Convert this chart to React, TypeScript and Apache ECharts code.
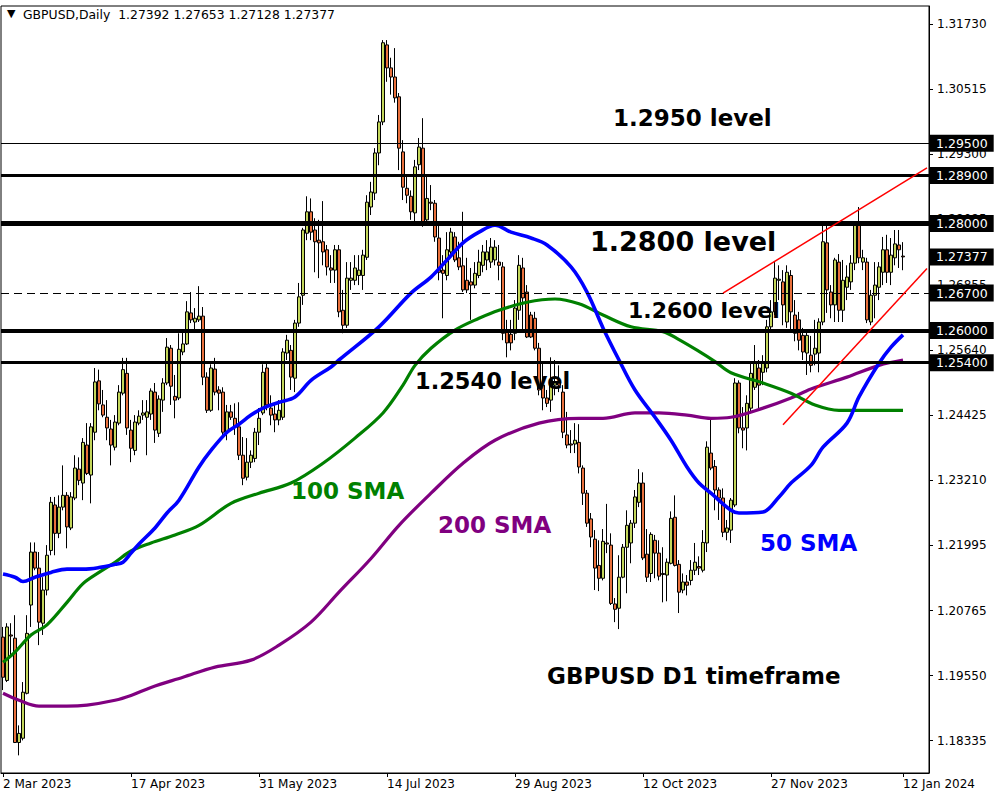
import React, { useEffect, useRef } from "react";
import * as echarts from "echarts";

// ---- tick labels ----
const dateTickLabels = ["2 Mar 2023", "17 Apr 2023", "31 May 2023", "14 Jul 2023", "29 Aug 2023", "12 Oct 2023", "27 Nov 2023", "12 Jan 2024"];
const priceTicks = [1.3173, 1.30515, 1.293, 1.28085, 1.26855, 1.2564, 1.24425, 1.2321, 1.21995, 1.20765, 1.1955, 1.18335];

// ---- daily OHLC (GBPUSD, 2 Mar 2023 .. 12 Jan 2024) ----
const opens = [
  1.2027, 1.1946, 1.2031, 1.2025, 1.1830, 1.1838, 1.1922, 1.2087, 1.2186, 1.2156,
  1.2053, 1.2115, 1.2189, 1.2274, 1.2221, 1.2270, 1.2292, 1.2231, 1.2287, 1.2341,
  1.2315, 1.2386, 1.2330, 1.2410, 1.2506, 1.2461, 1.2438, 1.2416, 1.2382, 1.2427,
  1.2483, 1.2520, 1.2414, 1.2376, 1.2427, 1.2442, 1.2438, 1.2444, 1.2485, 1.2408,
  1.2470, 1.2502, 1.2567, 1.2477, 1.2474, 1.2560, 1.2575, 1.2633, 1.2616, 1.2620,
  1.2627, 1.2513, 1.2451, 1.2528, 1.2489, 1.2485, 1.2410, 1.2448, 1.2436, 1.2420,
  1.2367, 1.2326, 1.2354, 1.2361, 1.2410, 1.2446, 1.2530, 1.2455, 1.2444, 1.2433,
  1.2438, 1.2558, 1.2563, 1.2511, 1.2614, 1.2666, 1.2782, 1.2822, 1.2788, 1.2769,
  1.2766, 1.2751, 1.2717, 1.2713, 1.2751, 1.2638, 1.2610, 1.2694, 1.2694, 1.2703,
  1.2703, 1.2737, 1.2831, 1.2857, 1.2932, 1.2990, 1.3134, 1.3091, 1.3074, 1.3037,
  1.2934, 1.2866, 1.2851, 1.2820, 1.2910, 1.2941, 1.2807, 1.2840, 1.2838, 1.2773,
  1.2713, 1.2703, 1.2747, 1.2775, 1.2736, 1.2721, 1.2694, 1.2691, 1.2685, 1.2703,
  1.2722, 1.2732, 1.2728, 1.2732, 1.2728, 1.2719, 1.2597, 1.2593, 1.2595, 1.2638,
  1.2717, 1.2672, 1.2629, 1.2623, 1.2567, 1.2498, 1.2474, 1.2470, 1.2498, 1.2502,
  1.2485, 1.2405, 1.2388, 1.2388, 1.2391, 1.2343, 1.2296, 1.2248, 1.2210, 1.2161,
  1.2137, 1.2203, 1.2199, 1.2089, 1.2081, 1.2139, 1.2195, 1.2203, 1.2240, 1.2279,
  1.2315, 1.2182, 1.2146, 1.2208, 1.2184, 1.2146, 1.2143, 1.2165, 1.2251, 1.2163,
  1.2115, 1.2130, 1.2133, 1.2152, 1.2159, 1.2152, 1.2203, 1.2371, 1.2346, 1.2302,
  1.2287, 1.2223, 1.2227, 1.2274, 1.2502, 1.2418, 1.2418, 1.2455, 1.2494, 1.2530,
  1.2522, 1.2530, 1.2607, 1.2635, 1.2694, 1.2691, 1.2616, 1.2703, 1.2629, 1.2620,
  1.2591, 1.2558, 1.2554, 1.2556, 1.2558, 1.2616, 1.2764, 1.2672, 1.2648, 1.2728,
  1.2638, 1.2681, 1.2691, 1.2726, 1.2797, 1.2728, 1.2728, 1.2616, 1.2666, 1.2681,
  1.2709, 1.2751, 1.2709, 1.2736, 1.2760, 1.27392,
];
const highs = [
  1.2046, 1.2053, 1.2053, 1.2068, 1.1862, 1.1943, 1.2068, 1.2204, 1.2204, 1.2186,
  1.2139, 1.2199, 1.2289, 1.2289, 1.2292, 1.2348, 1.2298, 1.2298, 1.2367, 1.2363,
  1.2399, 1.2427, 1.2427, 1.2530, 1.2527, 1.2489, 1.2470, 1.2433, 1.2442, 1.2498,
  1.2549, 1.2549, 1.2433, 1.2442, 1.2451, 1.2470, 1.2470, 1.2492, 1.2502, 1.2479,
  1.2511, 1.2586, 1.2573, 1.2517, 1.2595, 1.2601, 1.2655, 1.2672, 1.2642, 1.2683,
  1.2644, 1.2522, 1.2537, 1.2549, 1.2496, 1.2494, 1.2461, 1.2461, 1.2464, 1.2466,
  1.2401, 1.2399, 1.2376, 1.2418, 1.2455, 1.2537, 1.2541, 1.2479, 1.2461, 1.2470,
  1.2567, 1.2592, 1.2573, 1.2620, 1.2689, 1.2792, 1.2851, 1.2847, 1.2810, 1.2807,
  1.2842, 1.2760, 1.2741, 1.2760, 1.2760, 1.2676, 1.2728, 1.2728, 1.2741, 1.2741,
  1.2751, 1.2853, 1.2878, 1.2941, 1.3003, 1.3143, 1.3143, 1.3110, 1.3128, 1.3044,
  1.2956, 1.2891, 1.2862, 1.2919, 1.2960, 1.2997, 1.2891, 1.2872, 1.2844, 1.2797,
  1.2741, 1.2784, 1.2792, 1.2784, 1.2766, 1.2822, 1.2736, 1.2717, 1.2728, 1.2751,
  1.2760, 1.2769, 1.2773, 1.2769, 1.2760, 1.2728, 1.2620, 1.2620, 1.2657, 1.2741,
  1.2736, 1.2685, 1.2635, 1.2635, 1.2577, 1.2539, 1.2489, 1.2550, 1.2545, 1.2535,
  1.2498, 1.2448, 1.2414, 1.2427, 1.2425, 1.2348, 1.2302, 1.2259, 1.2227, 1.2208,
  1.2229, 1.2276, 1.2221, 1.2100, 1.2180, 1.2201, 1.2264, 1.2246, 1.2302, 1.2341,
  1.2335, 1.2229, 1.2223, 1.2218, 1.2208, 1.2195, 1.2174, 1.2262, 1.2292, 1.2171,
  1.2146, 1.2143, 1.2171, 1.2203, 1.2178, 1.2227, 1.2393, 1.2433, 1.2358, 1.2307,
  1.2305, 1.2246, 1.2287, 1.2511, 1.2507, 1.2457, 1.2479, 1.2539, 1.2573, 1.2545,
  1.2554, 1.2620, 1.2657, 1.2728, 1.2722, 1.2713, 1.2722, 1.2713, 1.2657, 1.2635,
  1.2605, 1.2601, 1.2590, 1.2620, 1.2623, 1.2797, 1.2797, 1.2685, 1.2736, 1.2743,
  1.2732, 1.2722, 1.2741, 1.2803, 1.2831, 1.2751, 1.2736, 1.2676, 1.2728, 1.2728,
  1.2775, 1.2779, 1.2773, 1.2788, 1.2788, 1.27653,
];
const lows = [
  1.1928, 1.1943, 1.1993, 1.1829, 1.1806, 1.1834, 1.1920, 1.2046, 1.2152, 1.2012,
  1.2031, 1.2105, 1.2180, 1.2180, 1.2212, 1.2264, 1.2193, 1.2227, 1.2283, 1.2311,
  1.2283, 1.2330, 1.2277, 1.2395, 1.2451, 1.2438, 1.2395, 1.2348, 1.2376, 1.2423,
  1.2479, 1.2405, 1.2354, 1.2367, 1.2423, 1.2433, 1.2367, 1.2433, 1.2390, 1.2401,
  1.2448, 1.2498, 1.2461, 1.2436, 1.2470, 1.2554, 1.2573, 1.2614, 1.2597, 1.2616,
  1.2498, 1.2446, 1.2448, 1.2479, 1.2451, 1.2403, 1.2395, 1.2433, 1.2405, 1.2358,
  1.2311, 1.2320, 1.2343, 1.2354, 1.2386, 1.2442, 1.2451, 1.2423, 1.2410, 1.2423,
  1.2433, 1.2545, 1.2489, 1.2485, 1.2607, 1.2648, 1.2769, 1.2769, 1.2709, 1.2698,
  1.2722, 1.2703, 1.2689, 1.2689, 1.2625, 1.2595, 1.2605, 1.2676, 1.2685, 1.2685,
  1.2676, 1.2732, 1.2816, 1.2844, 1.2909, 1.2984, 1.3065, 1.3041, 1.3026, 1.2900,
  1.2844, 1.2838, 1.2807, 1.2803, 1.2900, 1.2794, 1.2797, 1.2825, 1.2766, 1.2694,
  1.2623, 1.2694, 1.2737, 1.2728, 1.2713, 1.2672, 1.2670, 1.2620, 1.2679, 1.2698,
  1.2709, 1.2713, 1.2717, 1.2722, 1.2694, 1.2582, 1.2550, 1.2563, 1.2582, 1.2620,
  1.2601, 1.2586, 1.2586, 1.2563, 1.2479, 1.2451, 1.2457, 1.2448, 1.2479, 1.2485,
  1.2399, 1.2380, 1.2371, 1.2371, 1.2333, 1.2274, 1.2233, 1.2195, 1.2115, 1.2113,
  1.2133, 1.2184, 1.2087, 1.2055, 1.2042, 1.2137, 1.2109, 1.2165, 1.2231, 1.2270,
  1.2171, 1.2130, 1.2130, 1.2137, 1.2133, 1.2092, 1.2094, 1.2163, 1.2159, 1.2072,
  1.2109, 1.2105, 1.2124, 1.2143, 1.2143, 1.2148, 1.2186, 1.2339, 1.2264, 1.2246,
  1.2214, 1.2208, 1.2203, 1.2270, 1.2408, 1.2380, 1.2376, 1.2448, 1.2489, 1.2455,
  1.2498, 1.2522, 1.2601, 1.2629, 1.2657, 1.2610, 1.2605, 1.2601, 1.2580, 1.2563,
  1.2545, 1.2517, 1.2522, 1.2535, 1.2522, 1.2610, 1.2633, 1.2623, 1.2616, 1.2616,
  1.2616, 1.2657, 1.2676, 1.2713, 1.2726, 1.2713, 1.2614, 1.2610, 1.2623, 1.2657,
  1.2685, 1.2689, 1.2685, 1.2722, 1.2717, 1.27128,
];
const closes = [
  1.1952, 1.2046, 1.2029, 1.1830, 1.1847, 1.1924, 1.2034, 1.2186, 1.2156, 1.2055,
  1.2115, 1.2180, 1.2279, 1.2221, 1.2270, 1.2292, 1.2233, 1.2289, 1.2343, 1.2320,
  1.2391, 1.2333, 1.2420, 1.2504, 1.2463, 1.2442, 1.2418, 1.2386, 1.2429, 1.2485,
  1.2527, 1.2418, 1.2380, 1.2429, 1.2440, 1.2446, 1.2448, 1.2487, 1.2414, 1.2472,
  1.2502, 1.2569, 1.2496, 1.2470, 1.2565, 1.2575, 1.2635, 1.2620, 1.2623, 1.2627,
  1.2513, 1.2451, 1.2530, 1.2485, 1.2483, 1.2410, 1.2448, 1.2438, 1.2420, 1.2367,
  1.2324, 1.2354, 1.2367, 1.2410, 1.2436, 1.2522, 1.2461, 1.2442, 1.2433, 1.2451,
  1.2560, 1.2582, 1.2513, 1.2614, 1.2663, 1.2788, 1.2822, 1.2784, 1.2766, 1.2764,
  1.2747, 1.2719, 1.2713, 1.2751, 1.2635, 1.2610, 1.2698, 1.2698, 1.2717, 1.2713,
  1.2741, 1.2840, 1.2859, 1.2932, 1.2990, 1.3138, 1.3091, 1.3074, 1.3035, 1.2941,
  1.2868, 1.2853, 1.2822, 1.2906, 1.2943, 1.2797, 1.2847, 1.2838, 1.2775, 1.2709,
  1.2707, 1.2751, 1.2784, 1.2732, 1.2719, 1.2676, 1.2676, 1.2685, 1.2707, 1.2728,
  1.2747, 1.2747, 1.2756, 1.2756, 1.2722, 1.2595, 1.2577, 1.2577, 1.2642, 1.2722,
  1.2661, 1.2588, 1.2588, 1.2567, 1.2489, 1.2474, 1.2464, 1.2507, 1.2504, 1.2498,
  1.2410, 1.2386, 1.2386, 1.2395, 1.2345, 1.2296, 1.2240, 1.2214, 1.2156, 1.2137,
  1.2206, 1.2201, 1.2090, 1.2079, 1.2139, 1.2195, 1.2236, 1.2240, 1.2289, 1.2315,
  1.2175, 1.2139, 1.2219, 1.2184, 1.2141, 1.2144, 1.2167, 1.2249, 1.2161, 1.2111,
  1.2130, 1.2124, 1.2152, 1.2167, 1.2156, 1.2204, 1.2382, 1.2343, 1.2302, 1.2287,
  1.2223, 1.2231, 1.2283, 1.2502, 1.2418, 1.2414, 1.2464, 1.2520, 1.2539, 1.2498,
  1.2541, 1.2607, 1.2635, 1.2698, 1.2696, 1.2648, 1.2709, 1.2635, 1.2595, 1.2582,
  1.2560, 1.2591, 1.2535, 1.2567, 1.2616, 1.2766, 1.2676, 1.2648, 1.2732, 1.2638,
  1.2694, 1.2700, 1.2726, 1.2797, 1.2736, 1.2736, 1.2620, 1.2666, 1.2685, 1.2719,
  1.2751, 1.2709, 1.2741, 1.2762, 1.2751, 1.27377,
];

// ---- moving averages, read at sampled bars: [bar index, value] ----
const sma50 = [
  [0, 1.2145], [3, 1.2139], [5, 1.2131], [8, 1.2139], [12, 1.2148], [16, 1.2154], [20, 1.2154], [24, 1.2157],
  [28, 1.2163], [30, 1.2167], [32, 1.2184], [34, 1.2201], [38, 1.2231], [41, 1.2259], [44, 1.2283], [49, 1.2345],
  [52, 1.2376], [56, 1.241], [59, 1.2425], [62, 1.2442], [65, 1.2455], [69, 1.2466], [73, 1.2476], [77, 1.2507],
  [82, 1.2532], [84, 1.2545], [94, 1.2607], [102, 1.267], [107, 1.27], [111, 1.2732], [115, 1.2764], [119, 1.2784],
  [123, 1.2797], [127, 1.2784], [132, 1.2773], [136, 1.276], [142, 1.2719], [146, 1.2672], [150, 1.2605], [154, 1.2545],
  [158, 1.2489], [163, 1.2438], [167, 1.2395], [171, 1.2345], [174, 1.2315], [177, 1.2296], [182, 1.2264], [184, 1.2259],
  [190, 1.2261], [194, 1.2289], [197, 1.2315], [202, 1.2348], [205, 1.2382], [211, 1.2427], [214, 1.2476], [219, 1.2539],
  [222, 1.2569], [225, 1.2592],
];
const sma100 = [
  [0, 1.198], [3, 1.1999], [7, 1.2031], [11, 1.205], [16, 1.2092], [20, 1.2127], [24, 1.2148], [28, 1.2167],
  [32, 1.2188], [37, 1.2203], [43, 1.2218], [49, 1.2236], [57, 1.2277], [64, 1.2296], [72, 1.2315], [80, 1.2352],
  [88, 1.2399], [95, 1.2446], [100, 1.2498], [103, 1.2535], [107, 1.2567], [113, 1.2601], [119, 1.2623], [124, 1.2638],
  [131, 1.2653], [138, 1.2659], [144, 1.265], [150, 1.2629], [157, 1.2607], [165, 1.2598], [169, 1.2583], [174, 1.2561],
  [178, 1.2542], [182, 1.2521], [190, 1.2502], [197, 1.2483], [203, 1.2461], [209, 1.2451], [216, 1.2451], [225, 1.2451],
];
const sma200 = [
  [0, 1.1922], [4, 1.1909], [9, 1.1898], [16, 1.1898], [21, 1.19], [28, 1.1909], [32, 1.1918], [37, 1.1933],
  [45, 1.1952], [53, 1.1971], [62, 1.1984], [69, 1.2012], [77, 1.2055], [84, 1.2111], [92, 1.2174], [99, 1.2236],
  [107, 1.2296], [115, 1.2352], [123, 1.2395], [134, 1.2427], [144, 1.2436], [150, 1.2436], [158, 1.2446], [164, 1.2446],
  [171, 1.2442], [177, 1.2436], [182, 1.2438], [190, 1.2455], [197, 1.2474], [202, 1.2491], [211, 1.2513], [219, 1.2535],
  [225, 1.2545],
];

// ---- horizontal levels and trend lines ----
const levelValues = [1.295, 1.289, 1.28, 1.267, 1.26, 1.254];
const currentPrice = 1.27377;
const upperTrend = [[180, 1.267], [231, 1.2904]];
const lowerTrend = [[195, 1.2424], [231, 1.2716]];

const levelStyles = [
  { width: 1, type: "solid" },
  { width: 3, type: "solid" },
  { width: 5, type: "solid" },
  { width: 1, type: [8, 5] },
  { width: 4, type: "solid" },
  { width: 3, type: "solid" },
];

const MONTHS = ["Jan", "Feb", "Mar", "Apr", "May", "Jun", "Jul", "Aug", "Sep", "Oct", "Nov", "Dec"];
function tradingDays(): string[] {
  const out: string[] = [];
  const d = new Date(Date.UTC(2023, 2, 2));
  const end = Date.UTC(2024, 0, 12);
  while (d.getTime() <= end) {
    const wd = d.getUTCDay();
    const xmas = d.getUTCMonth() === 11 && d.getUTCDate() === 25;
    if (wd !== 0 && wd !== 6 && !xmas) {
      out.push(`${d.getUTCDate()} ${MONTHS[d.getUTCMonth()]} ${d.getUTCFullYear()}`);
    }
    d.setUTCDate(d.getUTCDate() + 1);
  }
  return out;
}

const FONT = '"DejaVu Sans", Verdana, sans-serif';

export default function App() {
  const ref = useRef<HTMLDivElement>(null);
  useEffect(() => {
    if (!ref.current) return;
    const chart = echarts.init(ref.current, undefined, { renderer: "svg" });
    const days = tradingDays();
    const categories = [...days];
    for (let k = 1; k <= 6; k++) categories.push(`pad${k}`);
    const candles = opens.map((o, i) => [o, closes[i], lows[i], highs[i]]);
    const showTick = (_i: number, v: string) => dateTickLabels.indexOf(v) >= 0;

    const boxLabel = (v: number) => ({
      show: true,
      position: "end",
      distance: 1,
      formatter: () => v.toFixed(5),
      color: "#fff",
      backgroundColor: "#000",
      fontFamily: FONT,
      fontSize: 12.5,
      lineHeight: 14,
      padding: [2, 6, 1, 6],
    });

    const markData: any[] = levelValues.map((v, k) => ({
      yAxis: v,
      lineStyle: { color: "#000", width: levelStyles[k].width, type: levelStyles[k].type },
      label: boxLabel(v),
    }));
    markData.push({
      yAxis: currentPrice,
      lineStyle: { color: "rgba(0,0,0,0)", width: 1, type: "solid" },
      label: boxLabel(currentPrice),
    });
    [upperTrend, lowerTrend].forEach((t) => {
      markData.push([
        { coord: t[0], lineStyle: { color: "#ff0000", width: 1.5, type: "solid" }, label: { show: false } },
        { coord: t[1] },
      ]);
    });

    const annText = (text: string, x: number, y: number, color: string, size = 23) => ({
      type: "text",
      x,
      y,
      z: 100,
      style: {
        text,
        fill: color,
        font: `bold ${size}px ${FONT}`,
        verticalAlign: "middle",
        align: "left",
      },
    });

    chart.setOption({
      animation: false,
      backgroundColor: "#fff",
      textStyle: { fontFamily: FONT },
      grid: { left: 1, top: 6, width: 928, height: 767, show: true, borderColor: "#000", borderWidth: 1 },
      xAxis: {
        type: "category",
        data: categories,
        boundaryGap: true,
        axisLine: { show: true, lineStyle: { color: "#000", width: 1 } },
        axisTick: { show: true, alignWithLabel: true, interval: showTick, length: 4, lineStyle: { color: "#000" } },
        axisLabel: {
          interval: showTick,
          align: "left",
          color: "#000",
          fontFamily: FONT,
          fontSize: 12,
          margin: 5,
        },
        splitLine: { show: false },
      },
      yAxis: {
        type: "value",
        position: "right",
        min: 1.1773,
        max: 1.32067,
        scale: true,
        axisLine: { show: true, lineStyle: { color: "#000" } },
        axisTick: { show: true, customValues: priceTicks, length: 4, lineStyle: { color: "#000" } },
        axisLabel: {
          customValues: priceTicks,
          formatter: (v: number) => v.toFixed(5),
          color: "#000",
          fontFamily: FONT,
          fontSize: 12,
          margin: 8,
        },
        splitLine: { show: false },
      },
      series: [
        {
          type: "candlestick",
          data: candles,
          barWidth: 3,
          z: 2,
          itemStyle: {
            color: "#c3d65a",
            color0: "#e8703c",
            borderColor: "#000",
            borderColor0: "#000",
            borderWidth: 1,
          },
          markLine: { silent: true, symbol: ["none", "none"], precision: 5, animation: false, data: markData },
        },
        {
          type: "line",
          name: "SMA200",
          data: sma200,
          smooth: 0.35,
          showSymbol: false,
          z: 3,
          lineStyle: { color: "#800080", width: 3.2 },
        },
        {
          type: "line",
          name: "SMA100",
          data: sma100,
          smooth: 0.35,
          showSymbol: false,
          z: 3,
          lineStyle: { color: "#008000", width: 3.2 },
        },
        {
          type: "line",
          name: "SMA50",
          data: sma50,
          smooth: 0.35,
          showSymbol: false,
          z: 3,
          lineStyle: { color: "#0000ff", width: 3.6 },
        },
      ],
      graphic: [
        { type: "text", x: 7, y: 13, style: { text: "▼", fill: "#000", font: `11px ${FONT}`, verticalAlign: "middle" } },
        {
          type: "text",
          x: 23,
          y: 14,
          style: {
            text: "GBPUSD,Daily  1.27392 1.27653 1.27128 1.27377",
            fill: "#000",
            font: `12.4px ${FONT}`,
            verticalAlign: "middle",
          },
        },
        annText("1.2950 level", 613, 118, "#000"),
        annText("1.2800 level", 590, 241, "#000", 27),
        annText("1.2600 level", 628, 310, "#000", 22),
        annText("1.2540 level", 415, 381, "#000", 22.5),
        annText("100 SMA", 291, 491, "#008000"),
        annText("200 SMA", 438, 525, "#800080"),
        annText("50 SMA", 760, 543, "#0000ff"),
        annText("GBPUSD D1 timeframe", 547, 676, "#000"),
      ],
    });
    return () => chart.dispose();
  }, []);
  return <div ref={ref} style={{ position: "fixed", left: 0, top: 0, width: 1000, height: 800 }} />;
}
